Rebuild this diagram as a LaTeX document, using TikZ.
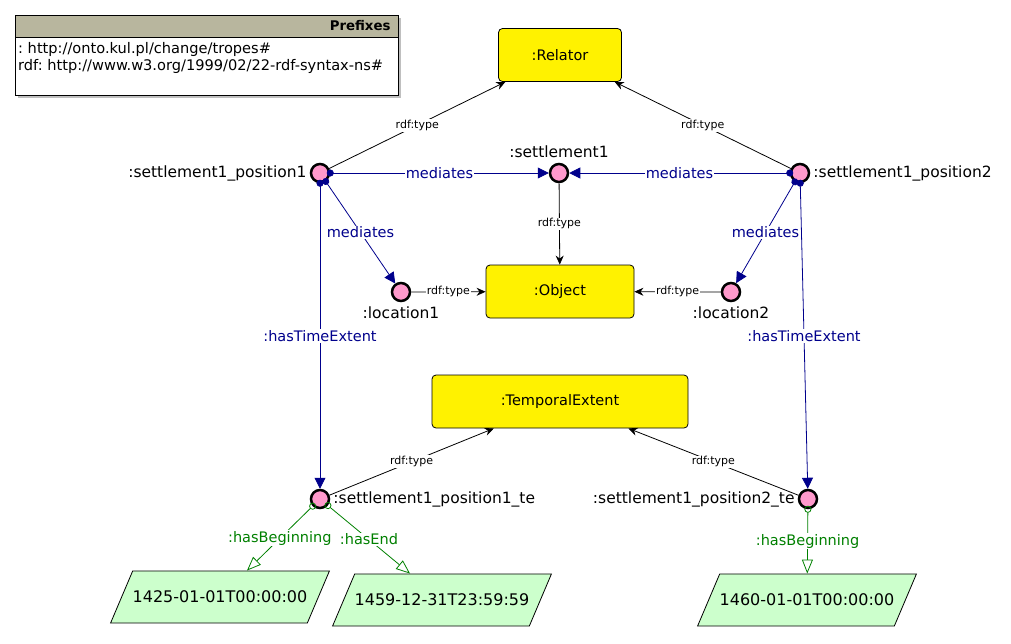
\documentclass[tikz,border=0pt]{standalone}
\usepackage{fontspec}
\setmainfont{DejaVu Sans}
\usetikzlibrary{arrows.meta,shapes.geometric}
\frenchspacing

\definecolor{propblue}{RGB}{0,0,140}
\definecolor{dtgreen}{RGB}{0,128,0}
\definecolor{indpink}{RGB}{255,153,204}
\definecolor{litgreen}{RGB}{204,255,204}
\definecolor{headgray}{RGB}{184,182,158}

\begin{document}
\begin{tikzpicture}[x=1pt,y=-1pt,
    ind/.style={circle,draw,line width=2.5pt,fill=indpink,minimum size=18pt,inner sep=0pt},
    cls/.style={rectangle,rounded corners=4pt,draw,line width=0.8pt,fill=yellow,minimum height=53pt,font=\fontsize{14.5}{17}\selectfont},
    lit/.style={trapezium,trapezium left angle=67,trapezium right angle=113,draw,line width=0.8pt,fill=litgreen,inner xsep=0pt,inner ysep=20pt,font=\fontsize{16}{19}\selectfont},
    lbl/.style={font=\fontsize{15.5}{18}\selectfont,inner sep=1pt},
    typeedge/.style={-{Stealth[length=9pt,width=8pt]},line width=0.8pt},
    objedge/.style={{Circle[length=7pt]}-{Triangle[length=11pt,width=11pt]},shorten <=-3.5pt,color=propblue,line width=0.8pt},
    dataedge/.style={{Circle[open,length=7pt]}-{Triangle[open,length=14pt,width=11pt]},shorten <=-3.5pt,color=dtgreen,line width=0.8pt},
    typelbl/.style={fill=white,inner sep=1pt,font=\fontsize{11}{13}\selectfont},
    proplbl/.style={fill=white,inner sep=1pt,font=\fontsize{14.5}{17}\selectfont}]

    \useasboundingbox (0,0) rectangle (1011,643);

    % prefixes
    \fill[black!25] (18,18) rectangle (401,98);
    \draw[fill=white,line width=0.8pt] (15,15) rectangle (398,95);
    \draw[fill=headgray,line width=0.8pt] (15,15) rectangle (398,37);
    \node[anchor=east,font=\bfseries\fontsize{13.3}{16}\selectfont] (prefhead) at (394,26) {Prefixes};
    \node[anchor=west,font=\fontsize{14.6}{17}\selectfont,inner sep=1pt] (pref1) at (17,49) {: http://onto.kul.pl/change/tropes\#};
    \node[anchor=west,font=\fontsize{14.6}{17}\selectfont,inner sep=1pt] (pref2) at (17,66) {rdf: http://www.w3.org/1999/02/22-rdf-syntax-ns\#};

    % classes
    \node[cls,minimum width=123pt] (relator) at (560,55) {:Relator};
    \node[cls,minimum width=148pt] (object) at (560,291.5) {:Object};
    \node[cls,minimum width=256pt] (tempext) at (560,401.5) {:TemporalExtent};

    % individuals
    \node[ind,label={[lbl,label distance=2pt]left:{:settlement1\_position1}}] (pos1) at (320,173) {};
    \node[ind,label={[lbl,label distance=4pt]above:{:settlement1}}] (settle) at (559,173) {};
    \node[ind,label={[lbl,label distance=2pt]right:{:settlement1\_position2}}] (pos2) at (800,173) {};
    \node[ind,label={[lbl,label distance=3pt]below:{:location1}}] (loc1) at (401,292) {};
    \node[ind,label={[lbl,label distance=3pt]below:{:location2}}] (loc2) at (731,292) {};
    \node[ind,label={[lbl,label distance=2pt]right:{:settlement1\_position1\_te}}] (te1) at (320,499) {};
    \node[ind,label={[lbl,label distance=2pt]left:{:settlement1\_position2\_te}}] (te2) at (808,499) {};

    % literals
    \node[lit] (beg1) at (220,597) {1425-01-01T00:00:00};
    \node[lit] (end1) at (442,600) {1459-12-31T23:59:59};
    \node[lit] (beg2) at (807,600) {1460-01-01T00:00:00};

    \path[typeedge,every node/.style={typelbl}]
    (pos1) edge node{rdf:type} (relator)
    (pos2) edge node{rdf:type} (relator)
    (settle) edge node{rdf:type} (object)
    (loc1) edge node{rdf:type} (object)
    (loc2) edge node{rdf:type} (object)
    (te1) edge node{rdf:type} (tempext)
    (te2) edge node{rdf:type} (tempext)
    ;

    \path[objedge,every node/.style={proplbl,text=propblue}]
    (pos1) edge node{mediates} (settle)
    (pos2) edge node{mediates} (settle)
    (pos1) edge node{mediates} (loc1)
    (pos2) edge node{mediates} (loc2)
    (pos1) edge node{:hasTimeExtent} (te1)
    (pos2) edge node{:hasTimeExtent} (te2)
    ;

    \path[dataedge,every node/.style={proplbl,text=dtgreen}]
    (te1) edge node{:hasBeginning} (beg1)
    (te1) edge node{:hasEnd} (end1)
    (te2) edge node{:hasBeginning} (beg2)
    ;
\end{tikzpicture}
\end{document}
